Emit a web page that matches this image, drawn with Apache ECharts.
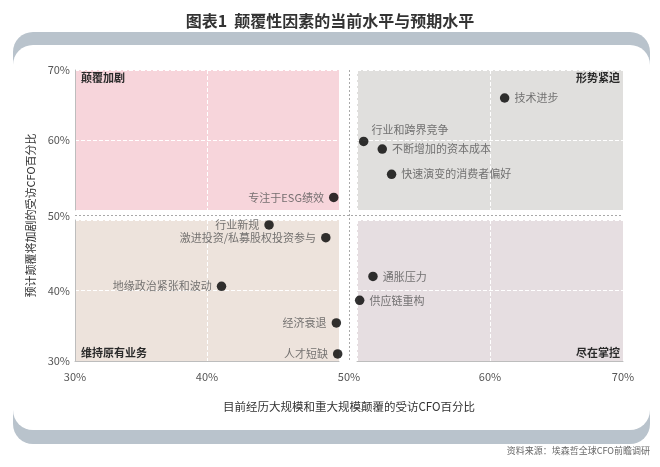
<!DOCTYPE html>
<html>
<head>
<meta charset="utf-8">
<script src="https://cdn.jsdelivr.net/npm/echarts@6/dist/echarts.min.js"></script>
<style>
html,body{margin:0;padding:0;background:#fff;}
#chart{width:660px;height:467px;}
</style>
</head>
<body>
<div id="chart"></div>
<script>
const titleText = '图表1  颠覆性因素的当前水平与预期水平';
const xAxisName = '目前经历大规模和重大规模颠覆的受访CFO百分比';
const yAxisName = '预计颠覆将加剧的受访CFO百分比';
const sourceText = '资料来源：埃森哲全球CFO前瞻调研';
const quadrantNames = ['颠覆加剧', '形势紧迫', '维持原有业务', '尽在掌控'];
const axisTicks = [30, 40, 50, 60, 70];

const factorNames = ['技术进步', '行业和跨界竞争', '不断增加的资本成本', '快速演变的消费者偏好', '专注于ESG绩效',
  '行业新规', '激进投资/私募股权投资参与', '地缘政治紧张和波动', '经济衰退', '人才短缺', '通胀压力', '供应链重构'];
const currentPct = [61.1, 50.5, 51.9, 52.6, 49.6, 44.7, 49.0, 41.1, 49.8, 49.9, 51.2, 50.2];
const expectedPct = [66.0, 59.8, 58.7, 55.1, 51.8, 49.3, 47.5, 40.6, 35.4, 31.0, 42.0, 38.6];

const FONT = '"Noto Sans CJK SC", "Noto Sans", sans-serif';
const quadColors = ['#f7d5db', '#e0dfdd', '#ede3dc', '#e6dee1'];
const labelOverrides = { '行业和跨界竞争': { position: 'right', offset: [-2, -12] } };

// Quadrant grids: 0 TL, 1 TR, 2 BL, 3 BR, 4 full
const grids = [
  { left: 75, top: 70, width: 264, height: 140 },
  { left: 357, top: 70, width: 266, height: 140 },
  { left: 75, top: 220, width: 264, height: 141 },
  { left: 357, top: 220, width: 266, height: 141 },
  { left: 75, top: 70, width: 548, height: 291 }
].map((g, i) => Object.assign({
  show: i < 4, backgroundColor: i < 4 ? quadColors[i] : 'transparent', borderWidth: 0, containLabel: false
}, g));

const axisColor = '#bdbdbd';
const labelStyle = { color: '#555', fontSize: 11, fontFamily: FONT };

function quadX(i) {
  const left = (i % 2 === 0);
  const bottom = i >= 2;
  return {
    type: 'value', gridIndex: i, min: left ? axisTicks[0] : axisTicks[2], max: left ? axisTicks[2] : axisTicks[4], interval: 10,
    axisLine: { show: bottom, onZero: false, lineStyle: { color: axisColor } },
    axisTick: { show: false },
    axisLabel: Object.assign({ show: bottom, margin: 10, formatter: v => v === 50 ? '' : v + '%' }, labelStyle),
    splitLine: { show: true, lineStyle: { color: '#ffffff', type: 'dashed', width: 1 } }
  };
}
function quadY(i) {
  const left = (i % 2 === 0);
  const top = i < 2;
  return {
    type: 'value', gridIndex: i, min: top ? axisTicks[2] : axisTicks[0], max: top ? axisTicks[4] : axisTicks[2], interval: 10,
    axisLine: { show: left, onZero: false, lineStyle: { color: axisColor } },
    axisTick: { show: false },
    axisLabel: Object.assign({ show: left, margin: 5, formatter: v => v === 50 ? '' : v + '%' }, labelStyle),
    splitLine: { show: true, lineStyle: { color: '#ffffff', type: 'dashed', width: 1 } }
  };
}

const midLine = { show: true, lineStyle: { color: ['rgba(0,0,0,0)', '#a9a9a9', 'rgba(0,0,0,0)'], type: [2, 2], width: 1 } };
const xAxes = [0, 1, 2, 3].map(quadX);
const yAxes = [0, 1, 2, 3].map(quadY);
xAxes.push({
  type: 'value', gridIndex: 4, min: axisTicks[0], max: axisTicks[4], interval: 20,
  axisLine: { show: false }, axisTick: { show: false }, splitLine: midLine,
  axisLabel: Object.assign({ margin: 10, formatter: v => v === 50 ? '50%' : '' }, labelStyle),
  name: xAxisName, nameLocation: 'middle', nameGap: 40,
  nameTextStyle: { color: '#333', fontSize: 11.5, fontFamily: FONT }
});
yAxes.push({
  type: 'value', gridIndex: 4, min: axisTicks[0], max: axisTicks[4], interval: 20,
  axisLine: { show: false }, axisTick: { show: false }, splitLine: midLine,
  axisLabel: Object.assign({ margin: 5, formatter: v => v === 50 ? '50%' : '' }, labelStyle),
  name: yAxisName, nameLocation: 'middle', nameGap: 36,
  nameTextStyle: { color: '#333', fontSize: 11, fontFamily: FONT }
});

function quadrantOf(x, y) {
  return (y >= 50 ? 0 : 2) + (x >= 50 ? 1 : 0);
}
const series = [0, 1, 2, 3].map(q => ({
  type: 'scatter', xAxisIndex: q, yAxisIndex: q, symbolSize: 9.5, clip: false,
  itemStyle: { color: '#000' },
  label: Object.assign({ show: true, position: (q % 2 === 0) ? 'left' : 'right', distance: 5, formatter: p => p.data.name }, labelStyle),
  data: factorNames.map((n, i) => ({ n, i })).filter(o => quadrantOf(currentPct[o.i], expectedPct[o.i]) === q)
    .map(o => {
      const d = { name: o.n, value: [currentPct[o.i], expectedPct[o.i]] };
      if (labelOverrides[o.n]) d.label = labelOverrides[o.n];
      return d;
    })
}));
series.push({ type: 'scatter', xAxisIndex: 4, yAxisIndex: 4, data: [], silent: true });

const qText = (text, opts) => Object.assign({
  type: 'text', z: 50,
  style: { text, fill: '#2a2a2a', font: 'bold 11px ' + FONT }
}, opts);

const option = {
  animation: false,
  title: {
    text: titleText, left: 'center', top: 8,
    textStyle: { fontSize: 16, fontWeight: 'bold', color: '#333', fontFamily: FONT }
  },
  grid: grids,
  xAxis: xAxes,
  yAxis: yAxes,
  series,
  graphic: [
    { type: 'rect', z: -100, shape: { x: 13, y: 32, width: 637, height: 412, r: 20 }, style: { fill: '#b9c3cc' } },
    { type: 'rect', z: -99, shape: { x: 13, y: 45, width: 637, height: 385, r: 20 }, style: { fill: '#ffffff' } },
    qText(quadrantNames[0], { left: 81, top: 72 }),
    qText(quadrantNames[1], { right: 40, top: 72 }),
    qText(quadrantNames[2], { left: 81, top: 347 }),
    qText(quadrantNames[3], { right: 40, top: 347 }),
    { type: 'text', right: 10, top: 446, z: 50,
      style: { text: sourceText, fill: '#666', font: '9px ' + FONT } }
  ]
};

const chart = echarts.init(document.getElementById('chart'));
chart.setOption(option);
</script>
</body>
</html>
